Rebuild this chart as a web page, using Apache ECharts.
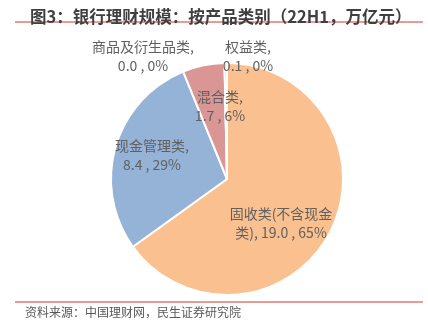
<!DOCTYPE html>
<html>
<head>
<meta charset="utf-8">
<script src="https://cdn.jsdelivr.net/npm/echarts@6/dist/echarts.min.js"></script>
<style>
  html, body { margin: 0; padding: 0; background: #fff; }
  #chart { width: 428px; height: 330px; }
</style>
</head>
<body>
<div id="chart"></div>
<script>
// Bank wealth-management scale by product type, 22H1 (trillion yuan)
const categories = ['固收类(不含现金类)', '现金管理类', '混合类', '商品及衍生品类', '权益类'];
const values = [19.0, 8.4, 1.7, 0.0, 0.1];
const colors = ['#FAC090', '#95B3D7', '#D99694', '#B3A2C7', '#93CDDD'];

// label anchor points (pixel centres) for each slice's label
const labelAnchors = [[281, 223], [152, 155], [220, 106], [143, 56], [248, 56]];

const FONT = '"Noto Sans CJK SC", "Noto Sans", sans-serif';
const total = values.reduce((a, b) => a + b, 0);

const chart = echarts.init(document.getElementById('chart'), null, { renderer: 'canvas' });

chart.setOption({
  backgroundColor: '#ffffff',
  animation: false,
  title: {
    text: '图3：银行理财规模：按产品类别（22H1，万亿元）',
    left: 25, top: 3,
    textStyle: { fontFamily: FONT, fontSize: 16.5, fontWeight: 'bold', color: '#3F3F3F' }
  },
  graphic: [
    { type: 'line', shape: { x1: 15, y1: 22, x2: 423, y2: 22 },
      style: { stroke: '#E07B74', lineWidth: 1.5 } },
    { type: 'line', shape: { x1: 15, y1: 302, x2: 423, y2: 302 },
      style: { stroke: '#E07B74', lineWidth: 1.5 } },
    { type: 'text', left: 25, top: 306,
      style: { text: '资料来源：中国理财网，民生证券研究院', font: '12px ' + FONT, fill: '#595959' } }
  ],
  series: [{
    type: 'pie',
    center: [227, 179],
    radius: [0, 116],
    startAngle: 90,
    clockwise: true,
    minAngle: 0,
    avoidLabelOverlap: false,
    itemStyle: { borderColor: '#ffffff', borderWidth: 2 },
    label: {
      show: true,
      position: 'inside',
      fontFamily: FONT,
      fontSize: 14,
      lineHeight: 19,
      color: '#606060',
      align: 'center',
      formatter: function (p) {
        const v = p.value.toFixed(1);
        const pct = Math.round(p.value / total * 100);
        if (p.dataIndex === 0) {
          const name = p.name;
          return name.slice(0, 8) + '\n' + name.slice(8) + ', ' + v + ' , ' + pct + '%';
        }
        return p.name + ',\n' + v + ' , ' + pct + '%';
      }
    },
    labelLine: { show: false },
    labelLayout: function (params) {
      const a = labelAnchors[params.dataIndex];
      return { x: a[0], y: a[1], align: 'center', verticalAlign: 'middle' };
    },
    data: categories.map((name, i) => ({
      name: name,
      value: values[i],
      itemStyle: { color: colors[i] }
    }))
  }]
});
</script>
</body>
</html>
